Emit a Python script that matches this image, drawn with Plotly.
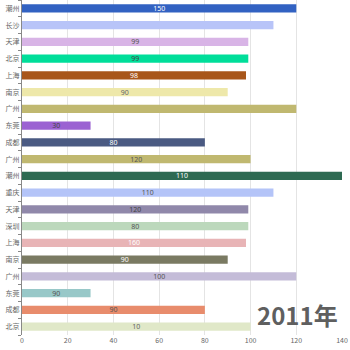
import plotly.graph_objects as go

cities = ["潮州", "长沙", "天津", "北京", "上海", "南京", "广州", "东莞", "成都", "广州",
          "潮州", "重庆", "天津", "深圳", "上海", "南京", "广州", "东莞", "成都", "北京"]
values = [120, 110, 99, 99, 98, 90, 120, 30, 80, 100,
          140, 110, 99, 99, 98, 90, 120, 30, 80, 100]
labels = ["150", "", "99", "99", "98", "90", "", "30", "80", "120",
          "110", "110", "120", "80", "160", "90", "100", "90", "90", "10"]
colors = ["#3262c2", "#b8c4f8", "#d8b4e6", "#00de9a", "#a8561a", "#eee8aa", "#c0b870", "#9b62d2", "#4a5a82", "#c0b870",
          "#2e6a52", "#b4c4f8", "#9088aa", "#bcd8bc", "#e8b4b6", "#7a7a62", "#c4bcd8", "#98c8c8", "#e88c6c", "#e0e8c8"]
text_colors = ["#ffffff", "#555555", "#555555", "#444444", "#ffffff", "#666666", "#555555", "#444444", "#ffffff", "#555555",
               "#ffffff", "#555555", "#444444", "#555555", "#ffffff", "#ffffff", "#555555", "#555555", "#555555", "#666666"]
year_label = "2011年"
x_ticks = [0, 20, 40, 60, 80, 100, 120, 140]

# unique category keys (duplicated city names)
keys = [c + "\u200b" * i for i, c in enumerate(cities)]

fig = go.Figure(go.Bar(
    x=values, y=keys, orientation="h",
    marker=dict(color=colors, line=dict(width=0)),
    text=labels, textposition="inside", insidetextanchor="middle",
    constraintext="none",
    textfont=dict(size=7, color=text_colors, family="Noto Sans"),
    textangle=0, hoverinfo="skip",
))

fig.update_layout(
    width=350, height=350,
    margin=dict(l=22, r=8, t=0, b=15),
    plot_bgcolor="white", paper_bgcolor="white",
    bargap=0.5, showlegend=False,
    font=dict(family="Noto Sans CJK SC", size=7, color="#666666"),
)
fig.update_xaxes(
    range=[0, 140], tickvals=x_ticks, showgrid=True, gridcolor="#e4e4e4", gridwidth=1,
    zeroline=False, showline=False, ticks="", tickfont=dict(size=7, color="#666666"),
    fixedrange=True,
)
fig.update_yaxes(
    type="category", autorange="reversed", tickmode="array", tickvals=keys, ticktext=cities,
    showline=True, linecolor="#888888", linewidth=1, ticks="outside", tickson="boundaries",
    ticklen=3, tickcolor="#888888", showgrid=False, tickfont=dict(size=7, color="#666666"),
)
fig.add_annotation(
    text="<b>" + year_label + "</b>", xref="paper", yref="paper",
    x=1.0, y=0.0, xanchor="right", yanchor="bottom", yshift=1, xshift=-2,
    showarrow=False, font=dict(size=24, color="#5f5f5f", family="Noto Sans CJK SC"),
)
fig.write_html("out.html")
